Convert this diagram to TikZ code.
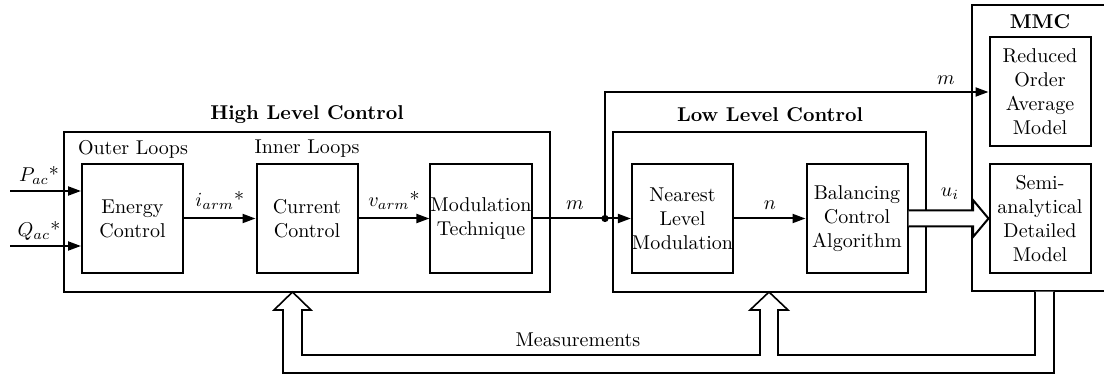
\documentclass[tikz,border=0pt]{standalone}
\usetikzlibrary{arrows.meta,calc}
\begin{document}
\begin{tikzpicture}[x=0.5pt,y=-0.5pt,
  blk/.style={draw,line width=1pt,minimum width=50.5pt,minimum height=54.5pt,inner sep=0pt,align=center},
  grp/.style={draw,line width=1pt,inner sep=0pt},
  ttl/.style={font=\bfseries,inner sep=0pt},
  lbl/.style={inner sep=0pt},
  sig/.style={line width=1pt,-{Triangle[length=6.5pt,width=4.5pt]}},
  hollow/.style={line width=0.8pt,fill=white,line join=miter}]
\useasboundingbox (0,0) rectangle (1104,374);
\clip (0,0) rectangle (1104,374);
% group boxes
\node[grp,minimum width=243pt,minimum height=80pt] (HLC) at (307,212) {};
\node[grp,minimum width=156.5pt,minimum height=80pt] (LLC) at (769.5,212) {};
\node[grp,minimum width=75pt,minimum height=143pt] (MMC) at (1046.5,148) {};
\node[ttl] (tH) at (307,115) {High Level Control};
\node[ttl] (tL) at (770,115) {Low Level Control};
\node[ttl] (tM) at (1040,22) {MMC};
\node[lbl] (oL) at (133,149) {Outer Loops};
\node[lbl] (iL) at (307,149) {Inner Loops};
% blocks
\node[blk] (EC) at (132.5,218.5) {Energy\\Control};
\node[blk] (CC) at (307,218.5) {Current\\Control};
\node[blk] (MT) at (481,218.5) {Modulation\\Technique};
\node[blk] (NLM) at (682.5,218.5) {Nearest\\Level\\Modulation};
\node[blk] (BCA) at (857,218.5) {Balancing\\Control\\Algorithm};
\node[blk] (ROM) at (1040,91.5) {Reduced\\Order\\Average\\Model};
\node[blk] (SDM) at (1040,218.5) {Semi-\\analytical\\Detailed\\Model};
% inputs
\coordinate (pin) at (10,191);
\coordinate (qin) at (10,246);
\draw[sig] (pin) -- (pin -| EC.west);
\draw[sig] (qin) -- (qin -| EC.west);
\node[lbl] (pl) at (39,176) {$P_{ac}$*};
\node[lbl] (ql) at (39,231) {$Q_{ac}$*};
% signals
\draw[sig] (EC.east) -- node[above=4pt,lbl] {$i_{arm}$*} (CC.west);
\draw[sig] (CC.east) -- node[above=4pt,lbl] {$v_{arm}$*} (MT.west);
\coordinate (dot) at (605,218.5);
\draw[line width=1pt] (MT.east) -- (dot);
\draw[sig] (dot) -- (NLM.west);
\fill (dot) circle (1.8pt);
\node[lbl] (ml) at (575,205) {$m$};
\coordinate (up) at (605,92);
\draw[sig] (dot) -- (up) -- (up -| ROM.west);
\node[lbl] (mt) at (946,80) {$m$};
\draw[sig] (NLM.east) -- node[above=4pt,lbl] {$n$} (BCA.west);
% u_i hollow arrow
\draw[hollow,line width=1pt] (BCA.east |- 0,210.5) -- (973,210.5) -- (973,200) -- (SDM.west) -- (973,237) -- (973,226.5) -- (BCA.east |- 0,226.5);
\node[lbl] (ul) at (950,194) {$u_i$};
% measurement arrows
\coordinate (tipH) at (292.5,292);
\coordinate (tipL) at (769,292);
\draw[hollow] (1054,291.5) -- (1054,373) -- (283,373) -- (283,310) -- (274,310) -- (tipH) -- (311,310) -- (302,310)
  -- (302,355) -- (760,355) -- (760,310) -- (750,310) -- (tipL) -- (788,310) -- (778,310) -- (778,355) -- (1035,355) -- (1035,291.5);
\node[lbl] (meas) at (578,340) {Measurements};
\end{tikzpicture}
\end{document}
